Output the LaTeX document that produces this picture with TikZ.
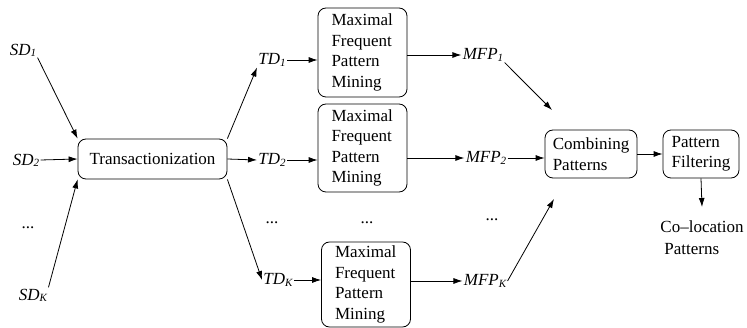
\documentclass[tikz,border=0pt]{standalone}
\usepackage{fontspec}
\setmainfont{Liberation Serif}
\usetikzlibrary{arrows.meta}
\newcommand{\subl}[2]{\textit{#1\raisebox{-0.15ex}{\fontsize{11}{11}\selectfont #2}}}

\begin{document}
\begin{tikzpicture}[x=1pt, y=-1pt, line width=.8pt,
    font=\fontsize{17}{20.4}\selectfont,
    stage/.style={draw, rounded corners=8pt, inner sep=0pt},
    mining/.style={stage, align=left, text width=62pt, inner xsep=13.5pt},
    lbl/.style={inner sep=1pt},
    flow/.style={-{Latex[length=9pt,width=6pt]}}]
    \useasboundingbox (0,0) rectangle (747,328);
    % Spatial Datasets
    \node[lbl] (SD-1) at (23,50) {\subl{SD}{1}};
    \node[lbl] (SD-2) at (26,160) {\subl{SD}{2}};
    \node (SD-dots) at (28,228) {...};
    \node[lbl] (SD-K) at (33,295) {\subl{SD}{K}};
    % Transactionization
    \node[stage, minimum width=149pt, minimum height=40pt] (Trans) at (152.5,159) {Transactionization};
    \foreach \i/\a/\b in {1/south east/north west, 2/east/west, K/north east/south west} {
        \draw[flow] (SD-\i.\a) -- (Trans.\b);
    }
    % Transaction Datasets
    \node[lbl] (TD-1) at (272,60) {\subl{TD}{1}};
    \node[lbl] (TD-2) at (272,160) {\subl{TD}{2}};
    \node (TD-dots) at (272,223) {...};
    \node[lbl] (TD-K) at (278,280) {\subl{TD}{K}};
    \draw[flow] (Trans.north east) -- (TD-1.south west);
    \draw[flow] (Trans.east) -- (TD-2.west);
    \draw[flow] (Trans.south east) -- (TD-K.west);
    % Maximal Frequent Pattern Mining
    \foreach \i/\x/\y/\h in {1/362.5/52.5/89, 2/362.5/148/88, K/366/284.5/85} {
        \node[mining, minimum height=\h pt] (MFM-\i) at (\x,\y) {Maximal\\Frequent\\Pattern\\Mining};
        \draw[flow] (TD-\i) -- (TD-\i -| MFM-\i.west);
    }
    \node (MFM-dots) at (367,223) {...};
    % Maximal Frequent Patterns
    \node[lbl] (MFP-1) at (483,55) {\subl{MFP}{1}};
    \node[lbl] (MFP-2) at (486,158) {\subl{MFP}{2}};
    \node (MFP-dots) at (492,220) {...};
    \node[lbl] (MFP-K) at (485,281) {\subl{MFP}{K}};
    \foreach \i in {1,2,K} {
        \draw[flow] (MFM-\i.east |- MFP-\i) -- (MFP-\i);
    }
    % Combining and Filtering
    \node[stage, align=left, minimum width=92pt, minimum height=48pt] (Comb) at (591,154) {Combining\\Patterns};
    \node[stage, align=left, minimum width=76pt, minimum height=48pt] (Filt) at (701,154) {Pattern\\Filtering};
    \coordinate (Comb-in-1) at (552,110);
    \coordinate (Comb-in-K) at (554,199);
    \draw[flow] (MFP-1.south east) -- (Comb-in-1);
    \draw[flow] (MFP-2) -- (MFP-2 -| Comb.west);
    \draw[flow] (MFP-K.east) -- (Comb-in-K);
    \draw[flow] (Comb) -- (Filt);
    % Result
    \node[align=left, anchor=north, inner xsep=1pt, inner ysep=13pt] (Coloc) at (702,207) {Co--location\\[2pt]\hspace*{4pt}Patterns};
    \draw[flow] (Filt.south) -- (Coloc.north);
\end{tikzpicture}
\end{document}
